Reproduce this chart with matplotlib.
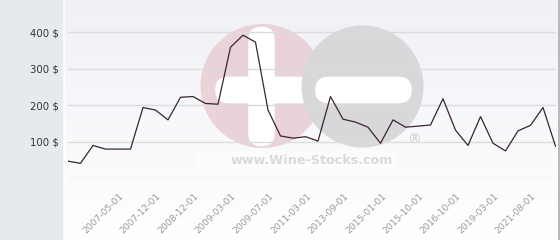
import numpy as np
import matplotlib
matplotlib.use('Agg')
import matplotlib.pyplot as plt
from matplotlib.patches import Circle, FancyBboxPatch, Rectangle
from matplotlib.transforms import ScaledTranslation

# prix (en $) pour chaque point de la série
prices = [47, 41, 90, 80, 80, 80, 194, 187, 160, 222,
          224, 205, 203, 359, 392, 373, 187, 116, 110, 114,
          102, 224, 162, 154, 140, 96, 160, 140, 143, 146,
          218, 132, 90, 169, 96, 75, 130, 145, 194, 88]
tick_idx = [4, 7, 10, 13, 16, 19, 22, 25, 28, 31, 34, 37]
tick_labels = ['2007-05-01', '2007-12-01', '2008-12-01', '2009-03-01',
               '2009-07-01', '2011-03-01', '2013-09-01', '2015-01-01',
               '2015-10-01', '2016-10-01', '2019-03-01', '2021-08-01']
y_ticks = [100, 200, 300, 400]

W, H = 560, 240
fig = plt.figure(figsize=(W / 100, H / 100), dpi=100)
fig.patch.set_facecolor('#e6eaee')

# fond en dégradé + logo en filigrane (coordonnées pixel)
bg = fig.add_axes([0, 0, 1, 1])
bg.set_xlim(0, W)
bg.set_ylim(H, 0)
bg.axis('off')
grad = np.linspace(0, 1, 256).reshape(-1, 1)
top = np.array([239, 241, 246]) / 255
bot = np.array([255, 255, 255]) / 255
img = top + (bot - top) * grad[..., None]
bg.imshow(img, extent=[64, 558, H, 0], aspect='auto', zorder=0)
bg.plot([63.5, 63.5], [0, H], color='white', lw=1.2, zorder=1)
bg.plot([558.5, 558.5], [0, H], color='#b0b0b0', lw=1.2, zorder=1)

bg.add_patch(Rectangle((197, 150), 200, 24, color='white', alpha=0.45, lw=0, zorder=1))
bg.add_patch(Circle((262.5, 86), 62, color='#ead3d8', lw=0, zorder=2))
bg.add_patch(FancyBboxPatch((261.5, 40), 0, 93, boxstyle='round,pad=13.3', color='white', lw=0, zorder=3))
bg.add_patch(FancyBboxPatch((228.5, 90), 75, 0, boxstyle='round,pad=13.3', color='white', lw=0, zorder=3))
bg.add_patch(Circle((362.5, 86.5), 61, color='#d8d8da', lw=0, zorder=4))
bg.add_patch(FancyBboxPatch((328.5, 90), 70, 0, boxstyle='round,pad=13.3', color='white', lw=0, zorder=5))
bg.text(311.5, 161, 'www.Wine-Stocks.com', ha='center', va='center', fontsize=9.2,
        fontweight='bold', color='#d9d9d9', zorder=5)
bg.text(414, 139, '®', ha='center', va='center', fontsize=10, fontweight='bold',
        color='#d4d4d6', zorder=5)

# graphique principal
y0 = 178.3
px_per_unit = 0.365
ymax = 480
ax = fig.add_axes([68 / W, (H - y0) / H, (555.5 - 68) / W, ymax * px_per_unit / H])
ax.set_facecolor('none')
x = np.arange(len(prices))
ax.plot(x, prices, color='#3a2430', lw=0.9, zorder=5)
ax.set_xlim(0, len(prices) - 1)
ax.set_ylim(0, ymax)

for v in [0] + y_ticks:
    ax.axhline(v, color='#dcdcdc', lw=1.0, zorder=1)
for s in ax.spines.values():
    s.set_visible(False)

ax.set_yticks(y_ticks)
ax.set_yticklabels(['{} $'.format(v) for v in y_ticks], fontsize=7.3, color='#333333')
ax.tick_params(axis='y', length=0, pad=6.5)

ax.set_xticks(tick_idx)
ax.set_xticklabels(tick_labels, rotation=45, ha='right', va='center',
                   rotation_mode='anchor', fontsize=6.6, color='#999999')
ax.tick_params(axis='x', length=0, pad=12)
for lab in ax.get_xticklabels():
    lab.set_transform(lab.get_transform() + ScaledTranslation(4 / 100, 0, fig.dpi_scale_trans))

fig.savefig('out.png', dpi=100)
